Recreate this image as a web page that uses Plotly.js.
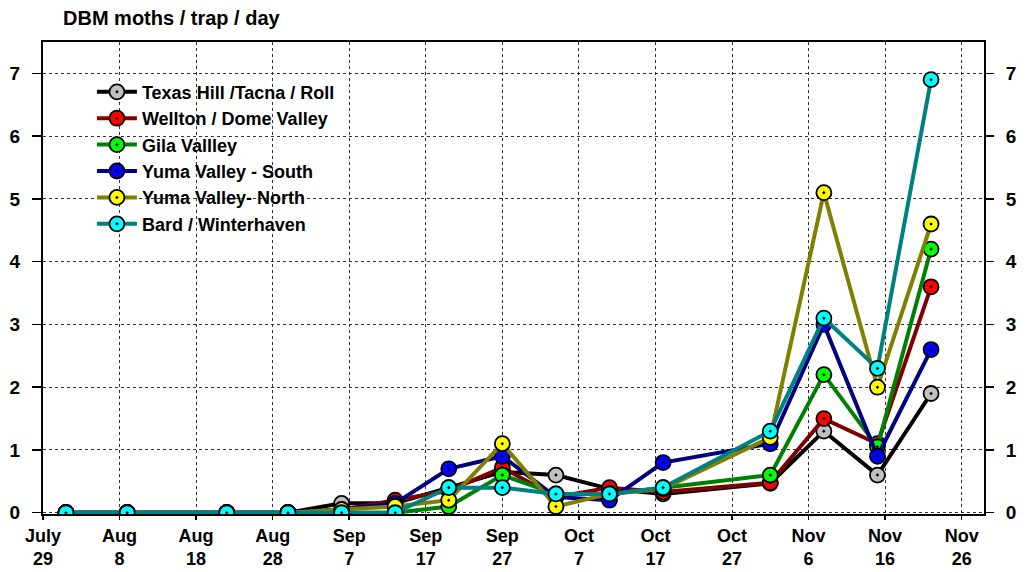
<!DOCTYPE html>
<html>
<head>
<meta charset="utf-8">
<script src="https://cdn.plot.ly/plotly-3.0.1.min.js"></script>
<style>html,body{margin:0;padding:0;background:#fff}#chart{width:1029px;height:572px}</style>
</head>
<body>
<div id="chart"></div>
<script>
// Sample dates
const dates = ['2012-08-01','2012-08-09','2012-08-22','2012-08-30','2012-09-06','2012-09-13','2012-09-20','2012-09-27','2012-10-04','2012-10-11','2012-10-18','2012-11-01','2012-11-08','2012-11-15','2012-11-22'];

// Series values (moths / trap / day)
const texasHill = [0,0,0,0,0.15,0.15,0.4,0.65,0.6,0.38,0.3,0.47,1.3,0.6,1.9];
const wellton   = [0,0,0,0,0.05,0.2,0.35,0.72,0.25,0.4,0.33,0.48,1.5,1.1,3.6];
const gila      = [0,0,0,0,0,0,0.1,0.6,0.3,0.3,0.4,0.6,2.2,1.05,4.2];
const yumaSouth = [0,0,0,0,0.05,0.15,0.7,0.9,0.25,0.2,0.8,1.1,3.0,0.9,2.6];
const yumaNorth = [0,0,0,0,0.05,0.1,0.2,1.1,0.1,0.3,0.38,1.2,5.1,2.0,4.6];
const bard      = [0,0,0,0,0,0,0.4,0.4,0.3,0.3,0.4,1.3,3.1,2.3,6.9];

const seriesNames = ['Texas Hill /Tacna / Roll','Wellton / Dome Valley','Gila Vallley','Yuma Valley - South','Yuma Valley- North','Bard / Winterhaven'];
const seriesValues = [texasHill, wellton, gila, yumaSouth, yumaNorth, bard];
const lineColors = ['#000000','#800000','#008000','#000080','#808000','#008080'];
const markerColors = ['#c0c0c0','#ff0000','#00ff00','#0000ff','#ffff00','#00ffff'];

// X tick labels
const tickDates = ['2012-07-29','2012-08-08','2012-08-18','2012-08-28','2012-09-07','2012-09-17','2012-09-27','2012-10-07','2012-10-17','2012-10-27','2012-11-06','2012-11-16','2012-11-26'];
const tickLabels = ['July<br>29','Aug<br>8','Aug<br>18','Aug<br>28','Sep<br>7','Sep<br>17','Sep<br>27','Oct<br>7','Oct<br>17','Oct<br>27','Nov<br>6','Nov<br>16','Nov<br>26'];
const yTicks = [0,1,2,3,4,5,6,7];

const FONT = 'Liberation Sans, Arial, Helvetica, sans-serif';

const traces = seriesNames.map((name, i) => ({
  type: 'scatter',
  mode: 'lines+markers',
  name: name,
  legendgroup: 'g' + i,
  x: dates,
  y: seriesValues[i],
  line: {color: lineColors[i], width: 4},
  marker: {symbol: 'circle-dot', size: 15, color: markerColors[i], line: {color: '#000000', width: 1.8}},
  xaxis: 'x', yaxis: 'y'
}));

traces.push({type: 'scatter', mode: 'markers', x: [], y: [], xaxis: 'x', yaxis: 'y2', showlegend: false, hoverinfo: 'skip'});

const layout = {
  width: 1029, height: 572,
  paper_bgcolor: '#ffffff', plot_bgcolor: '#ffffff',
  margin: {l: 43, r: 45, t: 42, b: 58, pad: 0},
  font: {family: FONT, color: '#000', size: 18, weight: 'bold'},
  title: {text: 'DBM moths / trap / day', font: {family: FONT, size: 20, weight: 'bold', color: '#000'},
          xref: 'container', yref: 'container', x: 63/1029, xanchor: 'left', y: 1 - 18/572, yanchor: 'middle'},
  showlegend: true,
  legend: {x: 0.052, y: 0.933, xanchor: 'left', yanchor: 'top', bgcolor: 'rgba(255,255,255,0)', borderwidth: 0,
           font: {family: FONT, size: 18, weight: 'bold', color: '#000'}, tracegroupgap: 0, itemwidth: 40},
  xaxis: {
    type: 'date', range: ['2012-07-29 00:00', '2012-11-28 22:00'],
    tickmode: 'array', tickvals: tickDates, ticktext: tickLabels,
    ticks: 'outside', ticklen: 4, tickwidth: 1.5, tickcolor: '#000',
    showline: true, linecolor: '#000', linewidth: 2, mirror: true,
    showgrid: true, gridcolor: '#333', griddash: 'dot', gridwidth: 1,
    zeroline: false,
    tickfont: {family: FONT, size: 18, weight: 'bold', color: '#000'}
  },
  yaxis: {
    range: [-0.02, 7.5], tickmode: 'array', tickvals: yTicks,
    ticks: 'outside', ticklen: 9, tickwidth: 1.5, tickcolor: '#000', ticklabelstandoff: 8,
    showline: true, linecolor: '#000', linewidth: 2, mirror: true,
    showgrid: true, gridcolor: '#333', griddash: 'dot', gridwidth: 1,
    zeroline: false,
    tickfont: {family: FONT, size: 19, weight: 'bold', color: '#000'}
  },
  yaxis2: {
    overlaying: 'y', side: 'right', matches: 'y', range: [-0.02, 7.5], tickmode: 'array', tickvals: yTicks,
    ticks: 'outside', ticklen: 9, tickwidth: 1.5, tickcolor: '#000', ticklabelstandoff: 8,
    showline: false, showgrid: false, zeroline: false,
    tickfont: {family: FONT, size: 19, weight: 'bold', color: '#000'}
  }
};

Plotly.newPlot('chart', traces, layout, {displayModeBar: false, staticPlot: true});
</script>
</body>
</html>
